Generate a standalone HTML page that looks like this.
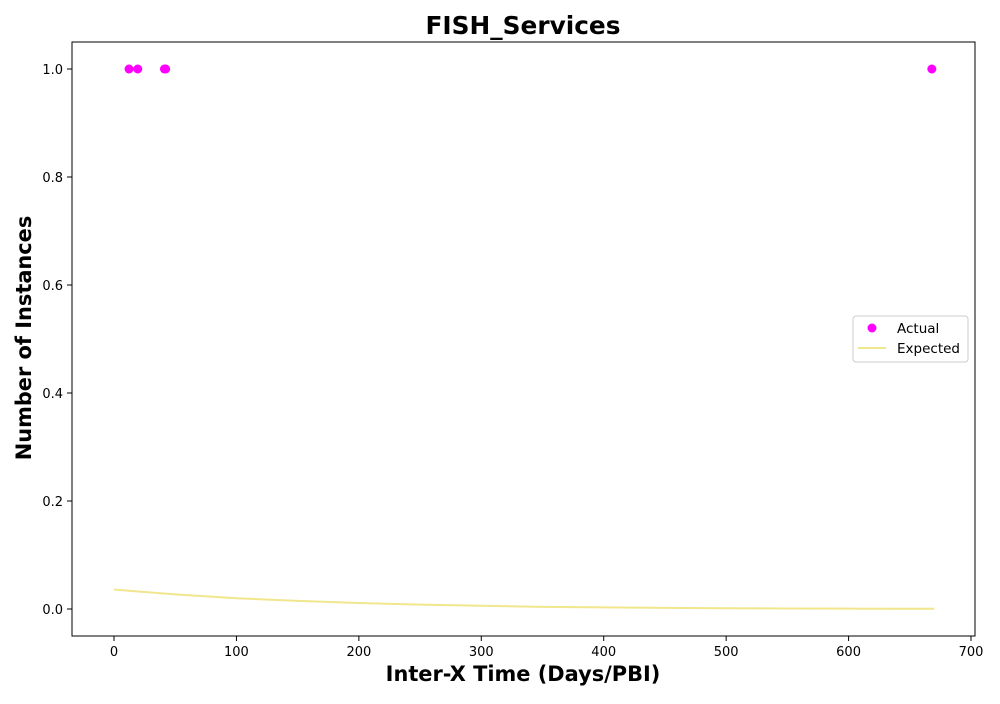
<!DOCTYPE html>
<html><head><meta charset="utf-8"><style>
body{margin:0;background:#fff;font-family:"DejaVu Sans","Liberation Sans",sans-serif}
</style></head><body>
<svg id="chart" width="1000" height="700" xmlns="http://www.w3.org/2000/svg" font-family="DejaVu Sans, Liberation Sans, sans-serif">
<text x="523" y="34" text-anchor="middle" font-size="24.8" font-weight="bold">FISH_Services</text>
<rect x="72" y="42" width="903" height="594" fill="none" stroke="#000" stroke-width="1"/>
<g id="xt"></g><g id="yt"></g><g id="marks"></g>
<text x="523" y="681" text-anchor="middle" font-size="20.9" font-weight="bold">Inter-X Time (Days/PBI)</text>
<text transform="translate(31,338) rotate(-90)" text-anchor="middle" font-size="20.9" font-weight="bold">Number of Instances</text>
<g>
<rect x="853" y="316" width="115" height="46" fill="#fff" stroke="#ccc" rx="3"/>
<circle cx="872" cy="328" r="4.5" fill="#ff00ff"/>
<text x="897" y="333" font-size="13.5">Actual</text>
<line x1="858" y1="348" x2="886" y2="348" stroke="#f0e68c" stroke-width="2"/>
<text x="897" y="353" font-size="13.5">Expected</text>
</g>
</svg>
<script>
const xTicks=[0,100,200,300,400,500,600,700];
const yTicks=[0.0,0.2,0.4,0.6,0.8,1.0];
const actualX=[12.3,19.4,41.2,42.2,668];
const actualY=[1,1,1,1,1];
const expectedX=[0,50,100,150,200,250,300,350,400,450,500,550,600,670];
const expectedY=[0.036,0.027,0.020,0.015,0.011,0.008,0.006,0.004,0.003,0.002,0.0015,0.001,0.0007,0.0004];
const sx=v=>114+v*1.2243, sy=v=>609-v*540;
const NS="http://www.w3.org/2000/svg";
function mk(t,a,p){const e=document.createElementNS(NS,t);for(const k in a)e.setAttribute(k,a[k]);p.appendChild(e);return e;}
const xt=document.getElementById('xt'),yt=document.getElementById('yt'),m=document.getElementById('marks');
xTicks.forEach(v=>{const x=sx(v);
mk('line',{x1:x,x2:x,y1:636,y2:641,stroke:'#000'},xt);
const t=mk('text',{x:x,y:656,'text-anchor':'middle','font-size':13},xt);t.textContent=v;

});
yTicks.forEach(v=>{const y=sy(v);
mk('line',{x1:67,x2:72,y1:y,y2:y,stroke:'#000'},yt);
const t=mk('text',{x:63,y:y+5,'text-anchor':'end','font-size':13},yt);t.textContent=v.toFixed(1);

});
const pl=mk('polyline',{points:expectedX.map((x,i)=>sx(x)+','+sy(expectedY[i])).join(' '),fill:'none',stroke:'#f0e68c','stroke-width':2},m);


actualX.forEach((x,i)=>{const c=mk('circle',{cx:sx(x),cy:sy(actualY[i]),r:4.5,fill:'#ff00ff'},m);

});
</script>
</body></html>
